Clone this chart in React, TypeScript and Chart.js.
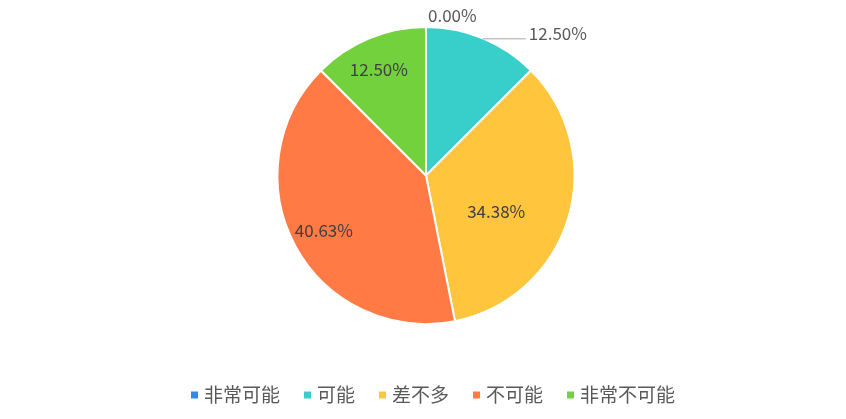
import React, { useEffect, useRef } from "react";
import { Chart, registerables } from "chart.js";

Chart.register(...registerables);

const categories = ["非常可能", "可能", "差不多", "不可能", "非常不可能"];
const counts = [0, 4, 11, 13, 4];
const percentLabels = ["0.00%", "12.50%", "34.38%", "40.63%", "12.50%"];
const colors = ["#2D8CEB", "#38CFCB", "#FFC53D", "#FF7A45", "#73D13D"];

const FONT = '"Noto Sans CJK SC", "Noto Sans", sans-serif';

// label placement hints per slice: mode, radial fraction, angle shift (deg)
const labelHints = [
  { mode: "top" },
  { mode: "leader" },
  { mode: "inside", r: 0.53, shift: 10 },
  { mode: "inside", r: 0.78, shift: 0 },
  { mode: "inside", r: 0.78, shift: -1.5 },
];

const labelPlugin = {
  id: "pieLabels",
  afterDatasetsDraw(chart: any) {
    const ctx = chart.ctx;
    const meta = chart.getDatasetMeta(0);
    ctx.save();
    ctx.font = `17px ${FONT}`;
    ctx.textBaseline = "middle";
    meta.data.forEach((arc: any, i: number) => {
      const { x, y, startAngle, endAngle, outerRadius } = arc.getProps(
        ["x", "y", "startAngle", "endAngle", "outerRadius"],
        true
      );
      const hint: any = labelHints[i];
      const mid = (startAngle + endAngle) / 2;
      if (hint.mode === "top") {
        ctx.fillStyle = "#595959";
        ctx.textAlign = "left";
        ctx.fillText(percentLabels[i], x + 2, y - outerRadius - 11);
      } else if (hint.mode === "leader") {
        const px = x + Math.cos(mid) * outerRadius;
        const py = y + Math.sin(mid) * outerRadius;
        ctx.strokeStyle = "#A6A6A6";
        ctx.lineWidth = 1;
        ctx.beginPath();
        ctx.moveTo(px, py + 0.5);
        ctx.lineTo(px + 43, py + 0.5);
        ctx.stroke();
        ctx.fillStyle = "#595959";
        ctx.textAlign = "left";
        ctx.fillText(percentLabels[i], px + 46, py - 5);
      } else {
        const a = mid + (hint.shift * Math.PI) / 180;
        const lx = x + Math.cos(a) * outerRadius * hint.r;
        const ly = y + Math.sin(a) * outerRadius * hint.r;
        ctx.fillStyle = "#404040";
        ctx.textAlign = "center";
        ctx.fillText(percentLabels[i], lx, ly);
      }
    });
    ctx.restore();
  },
  afterDraw(chart: any) {
    const ctx = chart.ctx;
    ctx.save();
    ctx.font = `19px ${FONT}`;
    ctx.textBaseline = "middle";
    ctx.textAlign = "left";
    const box = 7;
    const gapBoxText = 6;
    const gapItems = 24;
    const widths = categories.map((c) => ctx.measureText(c).width);
    const total =
      widths.reduce((s, w) => s + w + box + gapBoxText, 0) +
      gapItems * (categories.length - 1);
    let cx = 433 - total / 2;
    const cy = 395;
    categories.forEach((c, i) => {
      ctx.fillStyle = colors[i];
      ctx.fillRect(cx, cy - box / 2, box, box);
      cx += box + gapBoxText;
      ctx.fillStyle = "#595959";
      ctx.fillText(c, cx, cy);
      cx += widths[i] + gapItems;
    });
    ctx.restore();
  },
};

export default function App() {
  const ref = useRef<HTMLCanvasElement>(null);
  useEffect(() => {
    if (!ref.current) return;
    const chart = new Chart(ref.current, {
      type: "pie",
      data: {
        labels: categories,
        datasets: [
          {
            data: counts,
            backgroundColor: colors,
            borderColor: "#FFFFFF",
            borderWidth: 2,
          },
        ],
      },
      options: {
        animation: false,
        responsive: true,
        maintainAspectRatio: false,
        layout: { padding: { top: 26, bottom: 94, left: 6, right: 0 } },
        plugins: {
          legend: { display: false },
          tooltip: { enabled: false },
        },
      },
      plugins: [labelPlugin],
    });
    return () => chart.destroy();
  }, []);
  return (
    <div
      style={{
        position: "fixed",
        left: 0,
        top: 0,
        width: 846,
        height: 419,
        background: "#FFFFFF",
      }}
    >
      <canvas ref={ref} />
    </div>
  );
}
